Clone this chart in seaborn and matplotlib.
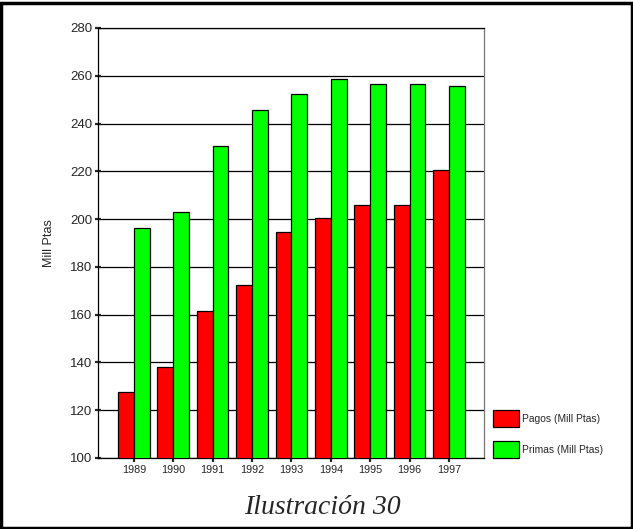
import matplotlib
matplotlib.use("Agg")
import matplotlib.pyplot as plt
import seaborn as sns
import pandas as pd
from matplotlib.patches import Rectangle

years = ["1989", "1990", "1991", "1992", "1993", "1994", "1995", "1996", "1997"]
pagos = [127.5, 138, 161.5, 172.5, 194.8, 200.6, 205.7, 205.7, 220.7]
primas = [196.4, 203, 230.5, 245.7, 252.5, 258.6, 256.4, 256.4, 255.6]
series_names = ["Pagos (Mill Ptas)", "Primas (Mill Ptas)"]
colors = ["#ff0000", "#00ff00"]

df = pd.DataFrame({
    "year": years * 2,
    "value": pagos + primas,
    "series": [series_names[0]] * len(years) + [series_names[1]] * len(years),
})

sns.set_style("white")
plt.rcParams["font.family"] = ["Liberation Sans", "DejaVu Sans"]

fig = plt.figure(figsize=(6.33, 5.29), dpi=100)
L, R, T, B = 98, 484, 28, 458
ax = fig.add_axes([L / 633, 1 - B / 529, (R - L) / 633, (B - T) / 529])

sns.barplot(data=df, x="year", y="value", hue="series", palette=colors, saturation=1,
            edgecolor="black", linewidth=0.9, width=0.8, ax=ax, zorder=3)

ax.set_ylim(100, 280)
ax.set_xlim(-0.91, 8.89)
ax.set_yticks(range(100, 281, 20))
ax.yaxis.grid(True, color="black", linewidth=0.9, zorder=0)
ax.set_axisbelow(True)
for s in ax.spines.values():
    s.set_color("black")
    s.set_linewidth(0.9)
ax.spines["right"].set_color("#777777")
ax.tick_params(axis="y", which="both", left=True, length=4, width=1.6, direction="inout",
               labelsize=9.5, pad=2)
ax.tick_params(axis="x", bottom=True, length=3, width=1.6, direction="out",
               labelsize=7.8, pad=2)
ax.set_xlabel("")
ax.set_ylabel("")
fig.text(49 / 633, 1 - 243 / 529, "Mill Ptas", rotation=90, ha="center", va="center",
         fontsize=9)

ax.legend_.remove()
handles = [Rectangle((0, 0), 1, 1, facecolor=c, edgecolor="black", linewidth=0.9) for c in colors]
fig.legend(handles, series_names, loc="upper left", bbox_to_anchor=(493 / 633, 1 - 410 / 529),
           frameon=False, fontsize=7.4, handlelength=2.5, handleheight=2.2,
           labelspacing=1.35, handletextpad=0.3, borderaxespad=0, borderpad=0)

fig.text(322 / 633, 1 - 508 / 529, "Ilustración 30", ha="center", va="center",
         fontsize=20, style="italic", family=["Liberation Serif", "DejaVu Serif"])

fig.patches.append(Rectangle((0.002, 0.002), 0.996, 0.993, transform=fig.transFigure,
                             fill=False, edgecolor="black", linewidth=2.5))

fig.savefig("out.png", dpi=100)
